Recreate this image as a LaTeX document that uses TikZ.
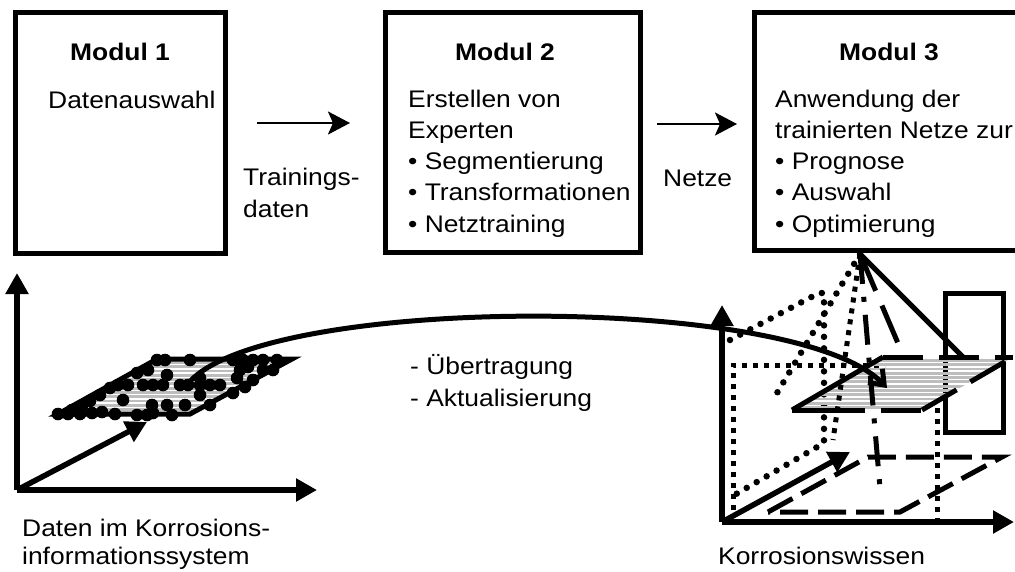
\documentclass[tikz,border=0pt]{standalone}
\usepackage{fontspec}
\setmainfont{Liberation Sans}[FakeStretch=1.1]
\usetikzlibrary{arrows.meta,calc}
\definecolor{stripegray}{gray}{0.74}
\def\boxnode{\node[draw=black, line width=5pt, inner sep=0pt]}
\def\drawaxis{\draw[line width=5.5pt,-{Triangle[length=21pt,width=22pt]}]}
\def\datadot{\fill[black]}

\tikzset{
  txt/.style={anchor=base west, inner sep=0pt, font=\fontsize{24pt}{31pt}\selectfont},
  title/.style={anchor=base, inner sep=0pt, font=\fontsize{24pt}{31pt}\selectfont\bfseries},
  flow/.style={line width=2.5pt, -{Stealth[length=22pt,width=23pt,inset=5pt]}},
  stripe/.style={draw=stripegray, line width=2.8pt},
  rddot/.style={line width=6.5pt, line cap=round, dash pattern=on 0pt off 11.5pt},
  sqdot/.style={line width=5pt, dash pattern=on 5pt off 6pt},
  ldash/.style={line width=5pt, dash pattern=on 40pt off 16pt},
  fdash/.style={line width=5pt, dash pattern=on 28pt off 10pt},
  ddash/.style={line width=5pt, dash pattern=on 30pt off 13pt on 5pt off 13pt},
}

\begin{document}
\begin{tikzpicture}[x=1pt,y=-1pt]
\useasboundingbox (0,0) rectangle (1015,571);
\clip (0,0) rectangle (1015,571);

% Modules
\boxnode[minimum width=209.5pt, minimum height=240.5pt] (mod1) at (120.25,132.75) {};
\boxnode[minimum width=255pt, minimum height=239.5pt] (mod2) at (512.5,132.25) {};
\boxnode[minimum width=285.5pt, minimum height=237.5pt] (mod3) at (897.25,131.25) {}; % runs off the right edge

\node[title] (mod1-title) at (120,60.5) {Modul 1};
\node[title] (mod2-title) at (505,60.5) {Modul 2};
\node[title] (mod3-title) at (889,60.5) {Modul 3};
\node[txt] (mod1-l0) at (48,108.5) {Datenauswahl};

\coordinate (mod2-txt) at (408,107);
\foreach \line [count=\i from 0] in {Erstellen von, Experten, • Segmentierung, • Transformationen, • Netztraining}
  \node[txt] (mod2-l\i) at ($(mod2-txt)+(0,{31.3*\i})$) {\line};

\coordinate (mod3-txt) at (775,107);
\foreach \line [count=\i from 0] in {Anwendung der, trainierten Netze zur, • Prognose, • Auswahl, • Optimierung}
  \node[txt] (mod3-l\i) at ($(mod3-txt)+(0,{31.3*\i})$) {\line};

% Arrows between the modules
\coordinate (arr1s) at (257,123);
\coordinate (arr1e) at (350,123);
\draw[flow] (arr1s) -- (arr1e);
\node[txt] (train1) at (243,185) {Trainings-};
\node[txt] (train2) at (243,217) {daten};

\coordinate (arr2s) at (657,124);
\coordinate (arr2e) at (737,124);
\draw[flow] (arr2s) -- (arr2e);
\node[txt] (netze) at (663,186) {Netze};

% Data in the corrosion information system
\coordinate (o1) at (17,490);
\drawaxis (o1) -- ($(o1)+(0,-217)$);
\drawaxis (o1) -- ($(o1)+(300,0)$);
\drawaxis (o1) -- ($(o1)+(130,-68)$);

\coordinate (pl1) at (58,414);
\coordinate (pl2) at (190,414);
\coordinate (pl3) at (292,359);
\coordinate (pl4) at (157,359);
\begin{scope}
  \clip (pl1) -- (pl2) -- (pl3) -- (pl4) -- cycle;
  \foreach \k in {0,...,13}
    \draw[stripe] (50,{358+4.3*\k}) -- (300,{358+4.3*\k});
\end{scope}
\draw[line width=5pt] (pl1) -- (pl2) -- (pl3) -- (pl4) -- cycle;

\foreach \x/\y in {58/414,68/414,80/414,92/413,102/412,115/414,137/415,147/415,153/413,172/415,
    72/410,82/406,90/401,100/395,110/388,123/400,152/405,167/405,185/405,210/405,
    200/395,233/393,118/385,128/385,143/385,153/385,163/385,180/385,188/385,200/385,
    210/385,220/385,237/378,245/387,137/373,148/370,167/375,200/378,157/360,165/360,
    190/360,233/360,243/360,253/360,263/360,277/360,248/367,263/370,273/370,253/380,240/370}
  \datadot (\x,\y) circle[radius=6.3pt];

\node[txt] (tr1) at (410,374.5) {- Übertragung};
\node[txt] (tr2) at (410,406) {- Aktualisierung};

\node[txt] (dat1) at (22,536) {Daten im Korrosions-};
\node[txt] (dat2) at (22,564) {informationssystem};

% Corrosion knowledge
\coordinate (o2) at (722,522);
\coordinate (apex) at (860,254);
\drawaxis (o2) -- ($(o2)+(0,-217)$);
\drawaxis (o2) -- ($(o2)+(292,0)$);
\drawaxis (o2) -- ($(o2)+(128,-70)$);

\draw[line width=5pt] (945,293) rectangle (1003,432);

% hidden edges behind the plane
\draw[sqdot] (733,510) -- (733,365) -- (885,365);
\draw[sqdot] (937,408) -- (937,522);
\draw[rddot] (730,340) -- (819,293) -- (824,293) -- (824,443) -- (731,497);

\coordinate (pr1) at (792,410);
\coordinate (pr2) at (922,410);
\coordinate (pr3) at (1013,357);
\coordinate (pr4) at (883,357);
\begin{scope}
  \clip (pr1) -- (pr2) -- (pr3) -- (pr4) -- cycle;
  \foreach \k in {0,...,13}
    \draw[stripe] (780,{356+4.3*\k}) -- (1015,{356+4.3*\k});
\end{scope}
\draw[line width=5pt] (pr1) -- (pr4);
\draw[line width=5pt] (pr1) -- (825,410);
\draw[ldash] (825,410) -- (pr2);
\draw[ldash] (pr2) -- (pr3);
\draw[ldash] (pr4) -- (pr3);

% rays from Modul 3
\draw[line width=5pt] (apex) -- (963,357);
\draw[ldash] (apex) -- (900,348);
\draw[ddash] (apex) -- (880,488);
\draw[sqdot] (apex) -- (833,440);
\draw[rddot] (apex) -- (777,393);

% projection on the floor
\draw[fdash] (768,512) -- (868,457) -- (1002,457) -- (900,512) -- cycle;

\node[txt] (wissen) at (718,564) {Korrosionswissen};

% transfer of the data
\coordinate (cstart) at (187,385);
\coordinate (cend) at (887,388);
\draw[line width=5pt, -{Straight Barb[length=13pt,width=20pt]}]
  (cstart) .. controls (255,295) and (795,292) .. (cend);
\end{tikzpicture}
\end{document}
